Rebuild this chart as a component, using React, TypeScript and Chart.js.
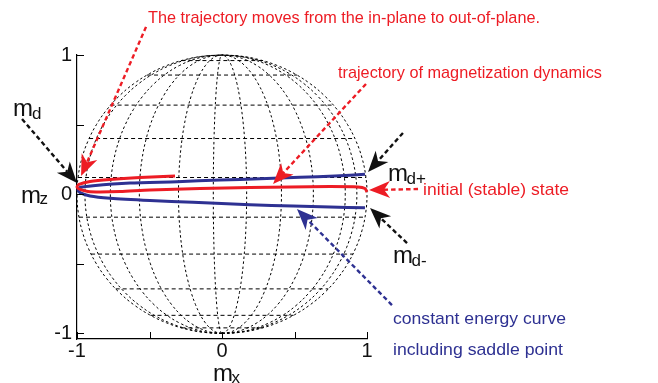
import React, { useEffect, useRef } from "react";
import { Chart, registerables } from "chart.js";

Chart.register(...registerables);

// ---- axes ----
const xTickValues = [-1, -0.5, 0, 0.5, 1];
const yTickValues = [-1, -0.5, 0, 0.5, 1];
const labeledTicks = [-1, 0, 1];

// ---- sphere wireframe ----
const meridianEquatorX = [-1, -0.945, -0.77, -0.57, -0.3, -0.06, 0.17, 0.41, 0.63, 0.85, 0.93, 1];
const latitudeY = [0.96, 0.856, 0.64, 0.4, 0.12, -0.165, -0.43, -0.68, -0.87, -0.96];
const meridianSteps = [-90, -82.5, -75, -67.5, -60, -52.5, -45, -37.5, -30, -22.5, -15, -7.5, 0, 7.5, 15, 22.5, 30, 37.5, 45, 52.5, 60, 67.5, 75, 82.5, 90];

// ---- trajectory of magnetization dynamics (red) ----
const redX = [1.0, 0.986, 0.938, 0.745, 0.469, 0.193, -0.152, -0.497, -0.703, -0.841, -0.924, -0.979, -1.0, -0.986, -0.91, -0.772, -0.566, -0.324];
const redY = [0.016, 0.041, 0.052, 0.055, 0.052, 0.048, 0.041, 0.03, 0.019, 0.016, 0.019, 0.034, 0.052, 0.07, 0.091, 0.106, 0.12, 0.131];

// ---- constant energy curve including saddle point (blue) ----
const blueX = [0.986, 0.745, 0.49, 0.193, -0.2, -0.497, -0.772, -0.91, -0.979, -0.993, -0.979, -0.89, -0.634, -0.31, -0.014, 0.262, 0.538, 0.779, 0.986];
const blueY = [-0.097, -0.092, -0.085, -0.076, -0.058, -0.045, -0.029, -0.013, 0.012, 0.03, 0.048, 0.061, 0.08, 0.09, 0.102, 0.111, 0.121, 0.131, 0.143];

const RED = "#ed1c24";
const BLUE = "#2e3192";
const FONT = '"Liberation Sans", Arial, Helvetica, sans-serif';

// arrows: tail -> tip in data coordinates
const arrows = [
  { from: [-0.524, 1.202], to: [-0.972, 0.131], color: RED },
  { from: [0.993, 0.792], to: [0.352, 0.073], color: RED },
  { from: [1.352, 0.037], to: [1.014, 0.03], color: RED },
  { from: [1.248, 0.44], to: [1.007, 0.159], color: "#111" },
  { from: [1.276, -0.351], to: [1.021, -0.099], color: "#111" },
  { from: [-1.379, 0.54], to: [-1.0, 0.08], color: "#111" },
  { from: [1.172, -0.796], to: [0.517, -0.106], color: BLUE },
];

// texts (canvas pixels: left, baseline, width)
const notes = [
  { text: "The trajectory moves from the in-plane to out-of-plane.", x: 148, y: 23, w: 392, color: RED },
  { text: "trajectory of magnetization dynamics", x: 338, y: 78, w: 264, color: RED },
  { text: "initial (stable) state", x: 423, y: 195, w: 146, color: RED },
  { text: "constant energy curve", x: 393, y: 324, w: 173, color: BLUE },
  { text: "including saddle point", x: 393, y: 355, w: 170, color: BLUE },
];

const symbols = [
  { main: "m", sub: "d", x: 13, y: 116, sx: 32, sy: 119 },
  { main: "m", sub: "z", x: 21, y: 203, sx: 39.5, sy: 204 },
  { main: "m", sub: "x", x: 213, y: 381, sx: 231.5, sy: 383 },
  { main: "m", sub: "d+", x: 388, y: 181, sx: 406.5, sy: 184 },
  { main: "m", sub: "d-", x: 393, y: 263, sx: 411.5, sy: 266 },
];

function drawArrow(ctx: CanvasRenderingContext2D, x1: number, y1: number, x2: number, y2: number, color: string) {
  const L = 21, W = 8.5, notch = 6;
  const dx = x2 - x1, dy = y2 - y1;
  const len = Math.hypot(dx, dy);
  const ux = dx / len, uy = dy / len;
  const nx = -uy, ny = ux;
  ctx.save();
  ctx.strokeStyle = color;
  ctx.lineWidth = 2.4;
  ctx.setLineDash([4.5, 3]);
  ctx.beginPath();
  ctx.moveTo(x1, y1);
  ctx.lineTo(x2 - ux * (L - notch), y2 - uy * (L - notch));
  ctx.stroke();
  ctx.setLineDash([]);
  ctx.fillStyle = color;
  ctx.beginPath();
  ctx.moveTo(x2, y2);
  ctx.lineTo(x2 - ux * L + nx * W, y2 - uy * L + ny * W);
  ctx.lineTo(x2 - ux * (L - notch), y2 - uy * (L - notch));
  ctx.lineTo(x2 - ux * L - nx * W, y2 - uy * L - ny * W);
  ctx.closePath();
  ctx.fill();
  ctx.restore();
}

function fitText(ctx: CanvasRenderingContext2D, text: string, x: number, y: number, w: number, color: string) {
  ctx.save();
  ctx.font = `17px ${FONT}`;
  const m = ctx.measureText(text).width;
  ctx.translate(x, y);
  ctx.scale(w / m, 1);
  ctx.fillStyle = color;
  ctx.textBaseline = "alphabetic";
  ctx.textAlign = "left";
  ctx.fillText(text, 0, 0);
  ctx.restore();
}

const annotationPlugin = {
  id: "annotations",
  afterDraw(chart: any) {
    const ctx: CanvasRenderingContext2D = chart.ctx;
    const xs = chart.scales.x;
    const ys = chart.scales.y;
    const area = chart.chartArea;
    // inward tick marks
    ctx.save();
    ctx.strokeStyle = "#000";
    ctx.lineWidth = 1;
    ctx.beginPath();
    for (const v of xTickValues) {
      const px = Math.round(xs.getPixelForValue(v)) + 0.5;
      ctx.moveTo(px, area.bottom);
      ctx.lineTo(px, area.bottom - 7);
    }
    for (const v of yTickValues) {
      const py = Math.round(ys.getPixelForValue(v)) + 0.5;
      ctx.moveTo(area.left, py);
      ctx.lineTo(area.left + 7, py);
    }
    ctx.stroke();
    ctx.restore();

    for (const a of arrows) {
      drawArrow(
        ctx,
        xs.getPixelForValue(a.from[0]),
        ys.getPixelForValue(a.from[1]),
        xs.getPixelForValue(a.to[0]),
        ys.getPixelForValue(a.to[1]),
        a.color
      );
    }
    for (const n of notes) fitText(ctx, n.text, n.x, n.y, n.w, n.color);

    ctx.save();
    ctx.fillStyle = "#111";
    ctx.textBaseline = "alphabetic";
    ctx.textAlign = "left";
    for (const s of symbols) {
      ctx.font = `24px ${FONT}`;
      ctx.fillText(s.main, s.x, s.y);
      ctx.font = `17px ${FONT}`;
      ctx.fillText(s.sub, s.sx, s.sy);
    }
    ctx.restore();
  },
};

function buildDatasets() {
  const ds: any[] = [];
  ds.push({
    data: redX.map((x, i) => ({ x, y: redY[i] })),
    borderColor: RED,
    borderWidth: 3,
    tension: 0.25,
    order: 0,
  });
  ds.push({
    data: blueX.map((x, i) => ({ x, y: blueY[i] })),
    borderColor: BLUE,
    borderWidth: 3,
    tension: 0.25,
    order: 1,
  });
  const rad = Math.PI / 180;
  for (const s of meridianEquatorX) {
    ds.push({
      data: meridianSteps.map((p) => ({ x: s * Math.cos(p * rad), y: Math.sin(p * rad) })),
      borderColor: "#000",
      borderWidth: 1,
      borderDash: [2.5, 2.5],
      tension: 0.4,
      order: 2,
    });
  }
  for (const y of latitudeY) {
    const half = Math.sqrt(1 - y * y);
    ds.push({
      data: [
        { x: -half, y },
        { x: half, y },
      ],
      borderColor: "#000",
      borderWidth: 1,
      borderDash: [4, 3],
      order: 3,
    });
  }
  return ds.map((d) => ({ showLine: true, pointRadius: 0, fill: false, clip: 6, ...d }));
}

export default function App() {
  const ref = useRef<HTMLCanvasElement>(null);
  useEffect(() => {
    if (!ref.current) return;
    const tickFont = { family: FONT, size: 20 };
    const chart = new Chart(ref.current, {
      type: "scatter",
      data: { datasets: buildDatasets() },
      options: {
        animation: false,
        responsive: false,
        devicePixelRatio: 1,
        layout: { padding: { left: 0, top: 55, right: 291, bottom: 0 } },
        plugins: { legend: { display: false }, tooltip: { enabled: false } },
        scales: {
          x: {
            type: "linear",
            min: -1,
            max: 1,
            grid: { display: false, drawTicks: false },
            border: { display: true, color: "#000", width: 1.2 },
            ticks: {
              color: "#111",
              font: tickFont,
              padding: 0,
              maxRotation: 0,
              autoSkip: false,
              callback: (v: any) => (labeledTicks.includes(Number(v)) ? String(v) : ""),
            },
            afterBuildTicks: (s: any) => {
              s.ticks = xTickValues.map((value) => ({ value }));
            },
            afterFit: (s: any) => {
              s.height = 44;
            },
          },
          y: {
            type: "linear",
            min: -1.04,
            max: 1,
            grid: { display: false, drawTicks: false },
            border: { display: true, color: "#000", width: 1.2 },
            ticks: {
              color: "#111",
              font: tickFont,
              padding: 5,
              autoSkip: false,
              callback: (v: any) => (labeledTicks.includes(Number(v)) ? String(v) : ""),
            },
            afterBuildTicks: (s: any) => {
              s.ticks = yTickValues.map((value) => ({ value }));
            },
            afterFit: (s: any) => {
              s.width = 77;
            },
          },
        },
      },
      plugins: [annotationPlugin],
    });
    return () => chart.destroy();
  }, []);
  return (
    <div style={{ position: "absolute", left: 0, top: 0, width: 658, height: 383, background: "#fff" }}>
      <canvas ref={ref} width={658} height={383} style={{ display: "block" }} />
    </div>
  );
}
